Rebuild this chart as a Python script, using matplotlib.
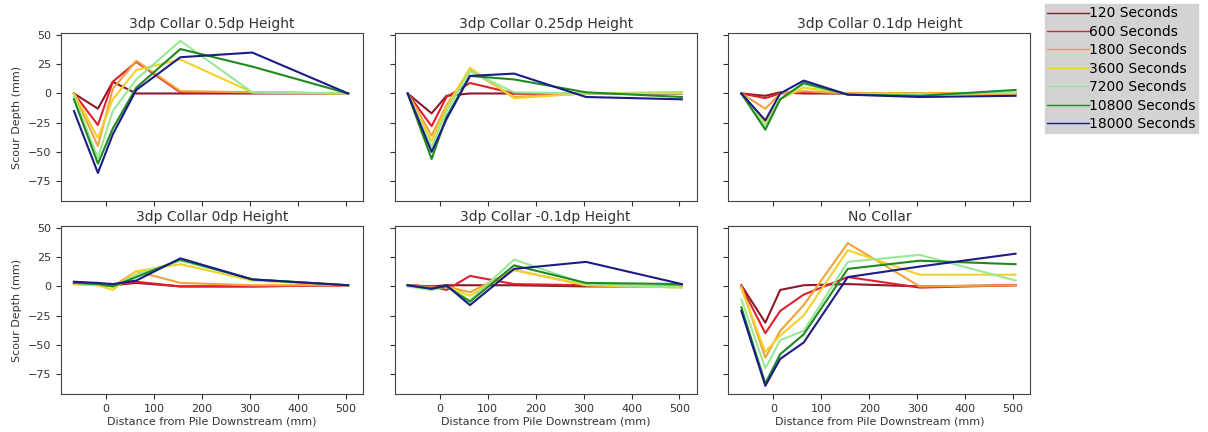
import numpy as np
import matplotlib
matplotlib.use("Agg")
import matplotlib.pyplot as plt

# distance from pile downstream (mm)
dist = [-67, -17, 14, 63, 155, 305, 505]

times = ["120", "600", "1800", "3600", "7200", "10800", "18000"]
colours = ["#8b1a2a", "#e0202e", "#f2a23a", "#f2d22a", "#98e898", "#1f8a1f", "#1c1c86"]

titles = ["3dp Collar 0.5dp Height", "3dp Collar 0.25dp Height", "3dp Collar 0.1dp Height",
          "3dp Collar 0dp Height", "3dp Collar -0.1dp Height", "No Collar"]

# scour depth (mm), one list per time step
c05 = [
    [0, -13, 10, 0, 0, 0, 0],
    [0, -27, 10, 27, 1, 1, 0],
    [0, -45, 4, 28, 2, 1, 0],
    [0, -38, -5, 20, 29, 1, 0],
    [-3, -55, -15, 12, 45, 1, 0],
    [-5, -60, -30, 5, 38, 23, 0],
    [-15, -68, -35, 3, 31, 35, 0],
]
c025 = [
    [0, -17, -2, 0, 0, 0, 0],
    [0, -28, -3, 9, 0, 0, 0],
    [0, -36, -10, 20, -3, 0, 1],
    [0, -41, -12, 22, -4, 0, 1],
    [0, -46, -15, 19, 1, 0, 0],
    [0, -56, -20, 15, 12, 1, -3],
    [0, -50, -22, 15, 17, -3, -5],
]
c01 = [
    [0, -2, 1, 0, 0, 0, 0],
    [0, -4, 0, 1, 0, 0, 0],
    [0, -13, 0, 2, 0, 0, 0],
    [0, -25, -5, 5, 0, 0, 0],
    [0, -28, -5, 8, -1, -1, 1],
    [0, -31, -5, 9, -1, -2, 3],
    [0, -23, 0, 11, -1, -3, -2],
]
c00 = [
    [3, 2, 1, 3, 0, 0, 1],
    [3, 2, 1, 4, 0, 0, 1],
    [2, 1, 0, 13, 3, 1, 1],
    [2, 1, -3, 13, 19, 5, 1],
    [3, 2, 0, 10, 22, 6, 1],
    [3, 2, 0, 8, 23, 6, 1],
    [4, 3, 2, 5, 24, 6, 1],
]
cm01 = [
    [1, 0, 1, 1, 1, 0, 0],
    [1, 0, -3, 9, 2, 1, 0],
    [1, -1, 0, -5, 14, 1, 0],
    [1, -2, 0, -8, 14, 1, -1],
    [0, -3, 0, -12, 23, 2, -1],
    [1, -2, 0, -13, 18, 3, 2],
    [1, -2, 1, -16, 15, 21, 2],
]
nocollar = [
    [1, -31, -3, 1, 2, 0, 1],
    [0, -40, -21, -7, 8, -1, 1],
    [0, -61, -38, -16, 37, 0, 1],
    [-2, -56, -42, -25, 31, 10, 10],
    [-11, -70, -46, -38, 21, 27, 5],
    [-18, -83, -58, -41, 15, 22, 19],
    [-21, -85, -62, -48, 8, 17, 28],
]
panels = [c05, c025, c01, c00, cm01, nocollar]

fig, axes = plt.subplots(2, 3, sharex=True, sharey=True, figsize=(12.08, 4.32), dpi=100)
fig.subplots_adjust(left=0.0505, right=0.853, top=0.923, bottom=0.088, wspace=0.105, hspace=0.15)

for ax, title, data in zip(axes.flat, titles, panels):
    for vals, t, c in zip(data, times, colours):
        ax.plot(dist, vals, color=c, lw=1.5, label=t + " Seconds")
    ax.set_title(title, fontsize=10, color="#333333", pad=4)
    ax.tick_params(labelsize=8, colors="#333333")
    for s in ax.spines.values():
        s.set_color("#444444")

for ax in axes[:, 0]:
    ax.set_ylabel("Scour Depth (mm)", fontsize=8, color="#333333")
for ax in axes[1, :]:
    ax.set_xlabel("Distance from Pile Downstream (mm)", fontsize=8, color="#333333", labelpad=2)

axes[0, 0].set_xlim(-94, 536)
axes[0, 0].set_ylim(-92, 51.5)
axes[0, 0].set_yticks([-75, -50, -25, 0, 25, 50])
axes[0, 0].set_xticks([0, 100, 200, 300, 400, 500])

handles, labels = axes[0, 0].get_legend_handles_labels()
leg = fig.legend(handles, labels, loc="upper left", bbox_to_anchor=(0.865, 0.99),
                 fontsize=10, frameon=True, fancybox=False, borderpad=0.15,
                 handlelength=3.0, handletextpad=0.05, labelspacing=0.32, borderaxespad=0)
leg.get_frame().set_facecolor("#d3d3d3")
leg.get_frame().set_edgecolor("#d3d3d3")
leg.get_frame().set_alpha(1)
for line in leg.get_lines():
    line.set_linewidth(1.0)

fig.savefig("out.png", dpi=100)
